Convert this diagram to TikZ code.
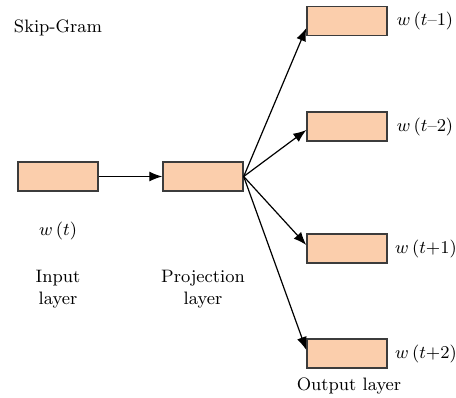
\documentclass[tikz,border=0pt]{standalone}
\usetikzlibrary{arrows.meta}
\definecolor{peach}{RGB}{251,206,172}
\definecolor{edge}{RGB}{60,60,60}
\begin{document}
\begin{tikzpicture}[x=0.5pt, y=-0.5pt,
  every node/.style={font=\rmfamily\fontsize{9}{11}\selectfont},
  unit/.style={draw=edge, fill=peach, line width=0.7pt, minimum width=40pt, minimum height=14.5pt, inner sep=0pt},
  every path/.style={line width=0.6pt}]
\useasboundingbox (0,0) rectangle (456,397);
\node (SG) at (58,28) {Skip-Gram};
\node [unit] (I) at (58,176.5) {};
\node [unit] (P) at (203,176.5) {};
\node [unit] (O1) at (347,21) {};
\node [unit] (O2) at (347,126.5) {};
\node [unit] (O3) at (347,248.5) {};
\node [unit] (O4) at (347,353.5) {};
\node (W1) at (425,21) {$w\,(t$--$1)$};
\node (W2) at (425,126.5) {$w\,(t$--$2)$};
\node (W3) at (426,248.5) {$w\,(t{+}1)$};
\node (W4) at (426,353.5) {$w\,(t{+}2)$};
\node (W0) at (58,231) {$w\,(t)$};
\node [align=center] (IL) at (58,289) {Input\\layer};
\node [align=center] (PL) at (203,289) {Projection\\layer};
\node (OL) at (349,386) {Output layer};
\draw [-{Latex[length=6.5pt,width=5pt]}] (I) -- (P);
\draw [-{Latex[length=6.5pt,width=5pt]}] (P.east) -- ([yshift=-3.5pt]O1.west);
\draw [-{Latex[length=6.5pt,width=5pt]}] (P.east) -- ([yshift=-1.75pt]O2.west);
\draw [-{Latex[length=6.5pt,width=5pt]}] (P.east) -- ([yshift=1.75pt]O3.west);
\draw [-{Latex[length=6.5pt,width=5pt]}] (P.east) -- ([yshift=1.75pt]O4.west);
\end{tikzpicture}
\end{document}
